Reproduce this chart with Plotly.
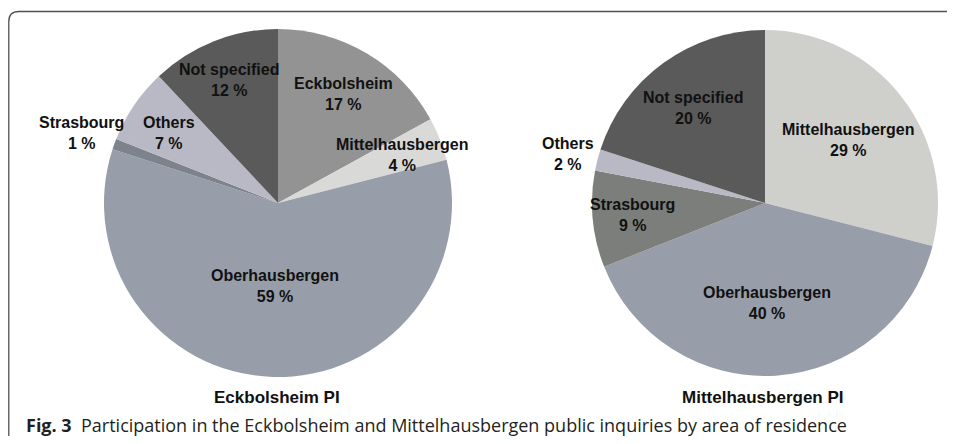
import plotly.graph_objects as go

# page has an 8px body margin; size the figure so the whole page is 955x444
OFF = 8
W, H = 955 - 2 * OFF, 444 - 2 * OFF

# Data
left_labels = ["Eckbolsheim", "Mittelhausbergen", "Oberhausbergen", "Strasbourg", "Others", "Not specified"]
left_values = [17, 4, 59, 1, 7, 12]
left_colors = ["#939393", "#d9d9d7", "#979ea9", "#7d838c", "#b9b9c5", "#5a5a5a"]

right_labels = ["Mittelhausbergen", "Oberhausbergen", "Strasbourg", "Others", "Not specified"]
right_values = [29, 40, 9, 2, 20]
right_colors = ["#cfd0cc", "#979ea9", "#7b7e7a", "#b9b9c5", "#5a5a5a"]

titles = ["Eckbolsheim PI", "Mittelhausbergen PI"]
caption_bold = "Fig. 3"
caption_text = "Participation in the Eckbolsheim and Mittelhausbergen public inquiries by area of residence"

# label placement (page pixel centers)
left_label_pos = {"Eckbolsheim": (343, 94), "Mittelhausbergen": (402, 155), "Oberhausbergen": (275, 286),
                  "Strasbourg": (81, 133), "Others": (169, 133), "Not specified": (229, 80)}
right_label_pos = {"Mittelhausbergen": (848, 140), "Oberhausbergen": (767, 303), "Strasbourg": (632, 215),
                   "Others": (568, 154), "Not specified": (693, 108)}


def px(x):
    return (x - OFF) / W


def py(y):
    return 1 - (y - OFF) / H


def dom(cx, cy, r):
    return dict(x=[px(cx - r), px(cx + r)], y=[py(cy + r), py(cy - r)])


fig = go.Figure()
fig.add_trace(go.Pie(labels=left_labels, values=left_values, sort=False, direction="clockwise",
                     rotation=0, marker=dict(colors=left_colors, line=dict(width=0)),
                     textinfo="none", hoverinfo="label+percent", domain=dom(278, 203, 174),
                     showlegend=False))
fig.add_trace(go.Pie(labels=right_labels, values=right_values, sort=False, direction="clockwise",
                     rotation=0, marker=dict(colors=right_colors, line=dict(width=0)),
                     textinfo="none", hoverinfo="label+percent", domain=dom(765, 203, 173),
                     showlegend=False))

label_font = dict(family="Liberation Sans, Arial, sans-serif", size=16, color="#111111")
for labels, values, pos in [(left_labels, left_values, left_label_pos),
                            (right_labels, right_values, right_label_pos)]:
    for lab, val in zip(labels, values):
        x, y = pos[lab]
        fig.add_annotation(x=px(x), y=py(y), xref="paper", yref="paper", showarrow=False,
                           xanchor="center", yanchor="middle",
                           text=f"<b>{lab}<br>{val} %</b>", font=label_font, align="center")

title_font = dict(family="Liberation Sans, Arial, sans-serif", size=17, color="#111111")
for t, cx in zip(titles, [277, 763]):
    fig.add_annotation(x=px(cx), y=py(397), xref="paper", yref="paper", showarrow=False,
                       xanchor="center", yanchor="middle",
                       text=f"<b>{t}</b>", font=title_font)

fig.add_annotation(x=px(24), y=py(424.5), xref="paper", yref="paper", showarrow=False,
                   xanchor="left", yanchor="middle",
                   text=f"<b>{caption_bold}</b>\u00a0\u00a0{caption_text}",
                   font=dict(family="Open Sans, sans-serif", size=18, color="#231f20"))

# frame with rounded top-left corner
x0, yt, rr = px(8.8), py(11.5), 10
path = (f"M {x0},{py(470)} L {x0},{py(11.5 + rr)} Q {x0},{yt} {px(8.8 + rr)},{yt} L {px(990)},{yt}")
fig.add_shape(type="path", path=path, xref="paper", yref="paper",
              line=dict(color="#505050", width=1.3))

fig.update_layout(width=W, height=H, margin=dict(l=0, r=0, t=0, b=0),
                  paper_bgcolor="white", plot_bgcolor="white")

fig.write_html("out.html")
